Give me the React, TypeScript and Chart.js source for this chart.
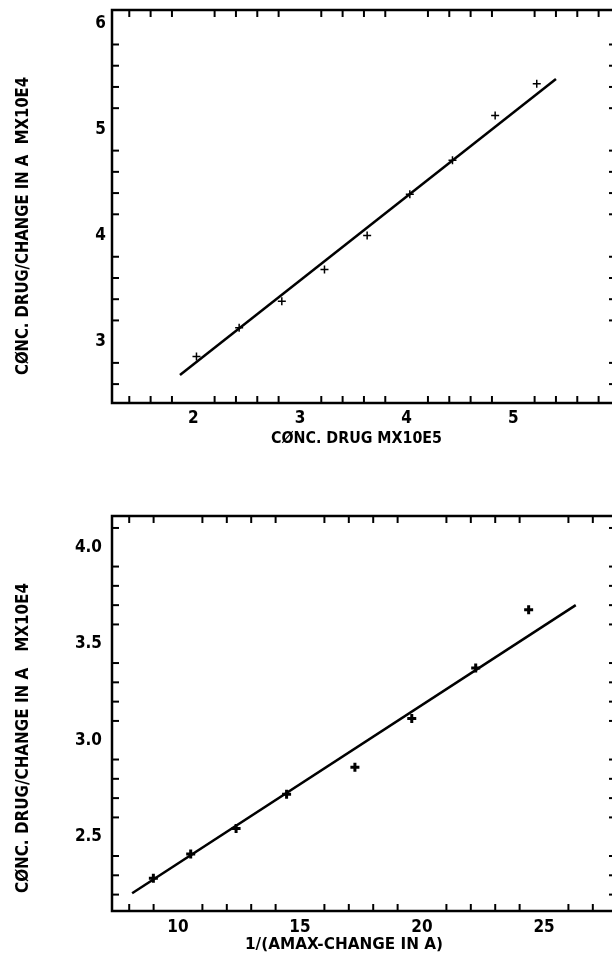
import React, { useEffect, useRef } from "react";
import { Chart, registerables } from "chart.js";

Chart.register(...registerables);

// ---------- Top panel data ----------
const drugConc = [2.03, 2.43, 2.83, 3.23, 3.63, 4.03, 4.43, 4.83, 5.22];
const ratioTop = [2.86, 3.13, 3.38, 3.68, 4.0, 4.39, 4.71, 5.13, 5.43];
const fitTopX = [1.875, 5.4];
const fitTopY = [2.686, 5.475];
const topXTitle = "CØNC. DRUG MX10E5";
const topYTitle = "CØNC. DRUG/CHANGE IN A  MX10E4";

// ---------- Bottom panel data ----------
const invChange = [8.99, 10.52, 12.38, 14.45, 17.25, 19.58, 22.2, 24.37];
const ratioBottom = [2.285, 2.41, 2.543, 2.72, 2.86, 3.112, 3.374, 3.676];
const fitBottomX = [8.12, 26.3];
const fitBottomY = [2.207, 3.7];
const bottomXTitle = "1/(AMAX-CHANGE IN A)";
const bottomYTitle = "CØNC. DRUG/CHANGE IN A   MX10E4";

const FAMILY = "'DejaVu Sans Condensed', 'DejaVu Sans', sans-serif";

type Panel = {
  xs: number[];
  ys: number[];
  fitX: number[];
  fitY: number[];
  xMin: number;
  xMax: number;
  yMin: number;
  yMax: number;
  xMajor: number;
  xMinor: number;
  yMajor: number;
  yMinor: number;
  yDecimals: number;
  padTop: number;
  xAxisHeight: number;
  yLabelPad: number;
  xLabelPad: number;
  pointRadius: number;
  pointBorder: number;
  xTitle: { text: string; x: number; y: number; w: number };
  yTitle: { text: string; x: number; y: number; w: number };
};

function valuesOnStep(min: number, max: number, step: number, skip: number) {
  const out: number[] = [];
  const k0 = Math.ceil(min / step - 1e-9);
  for (let k = k0; k * step <= max + 1e-9; k++) {
    const v = k * step;
    const r = v / skip;
    if (Math.abs(r - Math.round(r)) < 1e-6) continue;
    out.push(v);
  }
  return out;
}

function fittedText(
  ctx: CanvasRenderingContext2D,
  text: string,
  x: number,
  y: number,
  w: number,
  font: string,
  rotate: boolean
) {
  ctx.save();
  ctx.font = font;
  ctx.textAlign = "left";
  ctx.textBaseline = "alphabetic";
  ctx.fillStyle = "#000";
  const m = ctx.measureText(text).width;
  ctx.translate(x, y);
  if (rotate) ctx.rotate(-Math.PI / 2);
  ctx.scale(w / m, 1);
  ctx.fillText(text, 0, 0);
  ctx.restore();
}

function makePlugin(p: Panel) {
  return {
    id: "frameTicks",
    afterDraw(chart: any) {
      const { ctx, chartArea: a, scales } = chart;
      const sx = scales.x;
      const sy = scales.y;
      ctx.save();
      ctx.strokeStyle = "#000";
      ctx.lineCap = "butt";
      const seg = (x1: number, y1: number, x2: number, y2: number) => {
        ctx.beginPath();
        ctx.moveTo(x1, y1);
        ctx.lineTo(x2, y2);
        ctx.stroke();
      };
      ctx.lineWidth = 2;
      const xMaj = valuesOnStep(p.xMin, p.xMax, p.xMajor, 1e9);
      const xMin = valuesOnStep(p.xMin, p.xMax, p.xMinor, p.xMajor);
      const yMaj = valuesOnStep(p.yMin, p.yMax, p.yMajor, 1e9);
      const yMin = valuesOnStep(p.yMin, p.yMax, p.yMinor, p.yMajor);
      const xt = (v: number, len: number) => {
        const px = sx.getPixelForValue(v);
        seg(px, a.bottom, px, a.bottom - len);
        seg(px, a.top, px, a.top + len);
      };
      const yt = (v: number, len: number) => {
        const py = sy.getPixelForValue(v);
        seg(a.left, py, a.left + len, py);
        seg(a.right, py, a.right - len, py);
      };
      xMaj.forEach((v) => xt(v, 16));
      xMin.forEach((v) => xt(v, 7));
      yMaj.forEach((v) => yt(v, 16));
      yMin.forEach((v) => yt(v, 7));
      ctx.lineWidth = 2.5;
      ctx.strokeRect(a.left, a.top, a.right - a.left, a.bottom - a.top);
      ctx.restore();

      fittedText(ctx, p.xTitle.text, p.xTitle.x, p.xTitle.y, p.xTitle.w, `bold 16px ${FAMILY}`, false);
      fittedText(ctx, p.yTitle.text, p.yTitle.x, p.yTitle.y, p.yTitle.w, `bold 18px ${FAMILY}`, true);
    },
  };
}

function makeConfig(p: Panel): any {
  const tickFont = { family: FAMILY, size: 17, weight: "bold" as const };
  return {
    type: "scatter",
    data: {
      datasets: [
        {
          data: p.xs.map((x, i) => ({ x, y: p.ys[i] })),
          pointStyle: "cross",
          pointRadius: p.pointRadius,
          pointBorderWidth: p.pointBorder,
          borderColor: "#000",
          backgroundColor: "#000",
          showLine: false,
        },
        {
          data: p.fitX.map((x, i) => ({ x, y: p.fitY[i] })),
          showLine: true,
          pointRadius: 0,
          borderWidth: 2.5,
          borderColor: "#000",
          fill: false,
        },
      ],
    },
    options: {
      responsive: false,
      animation: false,
      devicePixelRatio: 1,
      layout: { padding: { left: 0, top: p.padTop, right: 24, bottom: 0 } },
      plugins: { legend: { display: false }, tooltip: { enabled: false } },
      scales: {
        x: {
          type: "linear",
          min: p.xMin,
          max: p.xMax,
          grid: { display: false, drawTicks: false },
          border: { display: false },
          afterFit: (s: any) => {
            s.height = p.xAxisHeight;
            s.paddingLeft = 0;
            s.paddingRight = 0;
          },
          ticks: {
            stepSize: p.xMajor,
            includeBounds: false,
            color: "#000",
            font: tickFont,
            padding: p.xLabelPad,
            maxRotation: 0,
            autoSkip: false,
            callback: (v: number) => String(v),
          },
        },
        y: {
          type: "linear",
          min: p.yMin,
          max: p.yMax,
          grid: { display: false, drawTicks: false },
          border: { display: false },
          afterFit: (s: any) => {
            s.width = 112;
            s.paddingTop = 0;
            s.paddingBottom = 0;
          },
          ticks: {
            stepSize: p.yMajor,
            includeBounds: false,
            color: "#000",
            font: tickFont,
            padding: p.yLabelPad,
            autoSkip: false,
            callback: (v: number) => v.toFixed(p.yDecimals),
          },
        },
      },
    },
  };
}

const topPanel: Panel = {
  xs: drugConc,
  ys: ratioTop,
  fitX: fitTopX,
  fitY: fitTopY,
  xMin: 1.238,
  xMax: 5.963,
  yMin: 2.422,
  yMax: 6.125,
  xMajor: 1,
  xMinor: 0.2,
  yMajor: 1,
  yMinor: 0.2,
  yDecimals: 0,
  padTop: 10,
  xAxisHeight: 74,
  yLabelPad: 6,
  xLabelPad: 5,
  pointRadius: 4,
  pointBorder: 1.5,
  xTitle: { text: topXTitle, x: 271, y: 443, w: 171 },
  yTitle: { text: topYTitle, x: 28, y: 375, w: 298 },
};

const bottomPanel: Panel = {
  xs: invChange,
  ys: ratioBottom,
  fitX: fitBottomX,
  fitY: fitBottomY,
  xMin: 7.295,
  xMax: 27.95,
  yMin: 2.115,
  yMax: 4.162,
  xMajor: 5,
  xMinor: 1,
  yMajor: 0.5,
  yMinor: 0.1,
  yDecimals: 1,
  padTop: 39,
  xAxisHeight: 43,
  yLabelPad: 10,
  xLabelPad: 6,
  pointRadius: 4.5,
  pointBorder: 3,
  xTitle: { text: bottomXTitle, x: 245, y: 472, w: 198 },
  yTitle: { text: bottomYTitle, x: 28, y: 416, w: 310 },
};

export default function App() {
  const ref1 = useRef<HTMLCanvasElement>(null);
  const ref2 = useRef<HTMLCanvasElement>(null);
  useEffect(() => {
    const c1 = new Chart(ref1.current!, { ...makeConfig(topPanel), plugins: [makePlugin(topPanel)] });
    const c2 = new Chart(ref2.current!, { ...makeConfig(bottomPanel), plugins: [makePlugin(bottomPanel)] });
    return () => {
      c1.destroy();
      c2.destroy();
    };
  }, []);
  return (
    <div
      style={{
        position: "fixed",
        left: 0,
        top: 0,
        width: 612,
        height: 954,
        overflow: "hidden",
        background: "#fff",
      }}
    >
      <canvas
        ref={ref1}
        width={640}
        height={477}
        style={{ position: "absolute", left: 0, top: 0, width: 640, height: 477 }}
      />
      <canvas
        ref={ref2}
        width={640}
        height={477}
        style={{ position: "absolute", left: 0, top: 477, width: 640, height: 477 }}
      />
    </div>
  );
}
